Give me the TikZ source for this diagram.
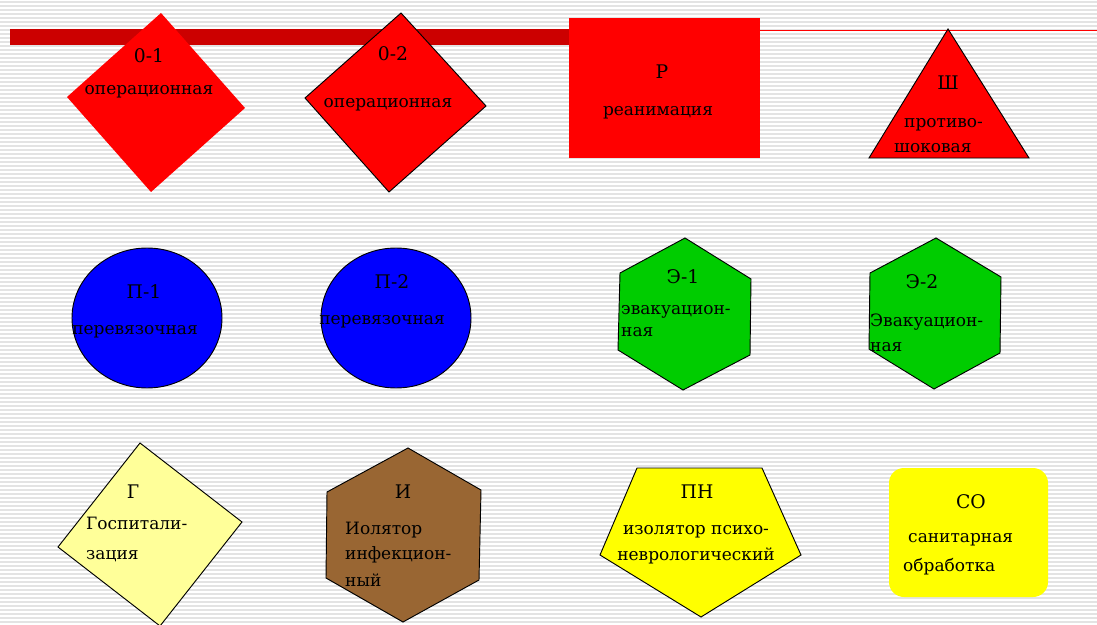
\documentclass[tikz,border=0pt]{standalone}
\usepackage{fontspec}
\setmainfont{DejaVu Serif}
\usepackage{xcolor}
\usetikzlibrary{positioning}

\definecolor{barred}{RGB}{204,0,0}
\definecolor{opred}{RGB}{255,0,0}
\definecolor{dressblue}{RGB}{0,0,255}
\definecolor{evacgreen}{RGB}{0,204,0}
\definecolor{hospyellow}{RGB}{255,255,153}
\definecolor{infbrown}{RGB}{153,102,51}
\definecolor{sanyellow}{RGB}{255,255,0}

\begin{document}
\begin{tikzpicture}[
    x=0.03cm, y=-0.03cm,
    stripe/.style={gray!22, line width=1.3pt},
    outline/.style={draw=black, line width=0.8pt},
    abbr/.style={font=\fontsize{16}{19}\selectfont, inner sep=0pt},
    desc/.style={font=\fontsize{14.5}{17}\selectfont, inner sep=0pt},
    leftdesc/.style={desc, anchor=west}
]
    \useasboundingbox (0,0) rectangle (1097,625);
    \clip (0,0) rectangle (1097,625);
    \fill[white] (0,0) rectangle (1097,625);
    \foreach \yy in {2,6,...,624}
        \draw[stripe] (0,\yy) -- (1097,\yy);

    % top bar
    \fill[barred] (10,29) rectangle (570,45);
    \draw[opred, line width=0.8pt] (760,30) -- (1097,30);

    % row 1: operating rooms, reanimation, anti-shock
    \fill[opred] (161,13) -- (245,108) -- (151,192) -- (67,97) -- cycle;
    \node[abbr] (o1) at (149,56) {0-1};
    \node[desc] (o1txt) at (149,92) {операционная};

    \filldraw[fill=opred, outline] (401,13) -- (486,106) -- (389,192) -- (305,98) -- cycle;
    \node[abbr] (o2) at (393,54) {0-2};
    \node[desc] (o2txt) at (388,105) {операционная};

    \fill[opred] (569,18) rectangle (760,158);
    \node[abbr] (r) at (662,72) {Р};
    \node[desc] (rtxt) at (658,113) {реанимация};

    \filldraw[fill=opred, outline] (948,29) -- (1029,158) -- (869,158) -- cycle;
    \node[abbr] (sh) at (948,83) {Ш};
    \node[leftdesc] (shtxt) at (904,125) {противо-};
    \node[leftdesc] (shtxt2) at (894,148) {шоковая};

    % row 2: dressing rooms, evacuation
    \filldraw[fill=dressblue, outline] (147,318) ellipse [x radius=75, y radius=70];
    \node[abbr] (p1) at (144,292) {П-1};
    \node[desc] (p1txt) at (135,332) {перевязочная};

    \filldraw[fill=dressblue, outline] (396,318) ellipse [x radius=75, y radius=70];
    \node[abbr] (p2) at (392,282) {П-2};
    \node[desc] (p2txt) at (382,322) {перевязочная};

    \filldraw[fill=evacgreen, outline] (685,238) -- (751,279) -- (750,355) -- (683,390) -- (618,350) -- (620,273) -- cycle;
    \node[abbr] (e1) at (683,277) {Э-1};
    \node[leftdesc] (e1txt) at (621,312) {эвакуацион-};
    \node[leftdesc] (e1txt2) at (621,332) {ная};

    \filldraw[fill=evacgreen, outline] (936,238) -- (1001,277) -- (1000,353) -- (934,389) -- (869,349) -- (870,273) -- cycle;
    \node[abbr] (e2) at (922,282) {Э-2};
    \node[leftdesc] (e2txt) at (870,322) {Эвакуацион-};
    \node[leftdesc] (e2txt2) at (870,347) {ная};

    % row 3: hospitalisation, isolators, sanitation
    \filldraw[fill=hospyellow, outline] (140,443) -- (242,522) -- (160,626) -- (58,547) -- cycle;
    \node[abbr] (g) at (133,492) {Г};
    \node[leftdesc] (gtxt) at (86,523) {Госпитали-};
    \node[leftdesc] (gtxt2) at (86,556) {зация};

    \filldraw[fill=infbrown, outline] (408,448) -- (481,490) -- (479,580) -- (403,622) -- (326,578) -- (327,492) -- cycle;
    \node[abbr] (i) at (403,492) {И};
    \node[leftdesc] (itxt) at (345,530) {Иолятор};
    \node[leftdesc] (itxt2) at (345,555) {инфекцион-};
    \node[leftdesc] (itxt3) at (345,580) {ный};

    \filldraw[fill=sanyellow, outline] (637,468) -- (762,468) -- (801,555) -- (701,617) -- (600,555) -- cycle;
    \node[abbr] (pn) at (697,492) {ПН};
    \node[desc] (pntxt) at (696,532) {изолятор психо-};
    \node[desc] (pntxt2) at (696,556) {неврологический};

    \fill[sanyellow, rounded corners=0.45cm] (889,468) rectangle (1048,597);
    \node[abbr] (so) at (971,502) {СО};
    \node[leftdesc] (sotxt) at (908,540) {санитарная};
    \node[leftdesc] (sotxt2) at (903,567) {обработка};
\end{tikzpicture}
\end{document}
